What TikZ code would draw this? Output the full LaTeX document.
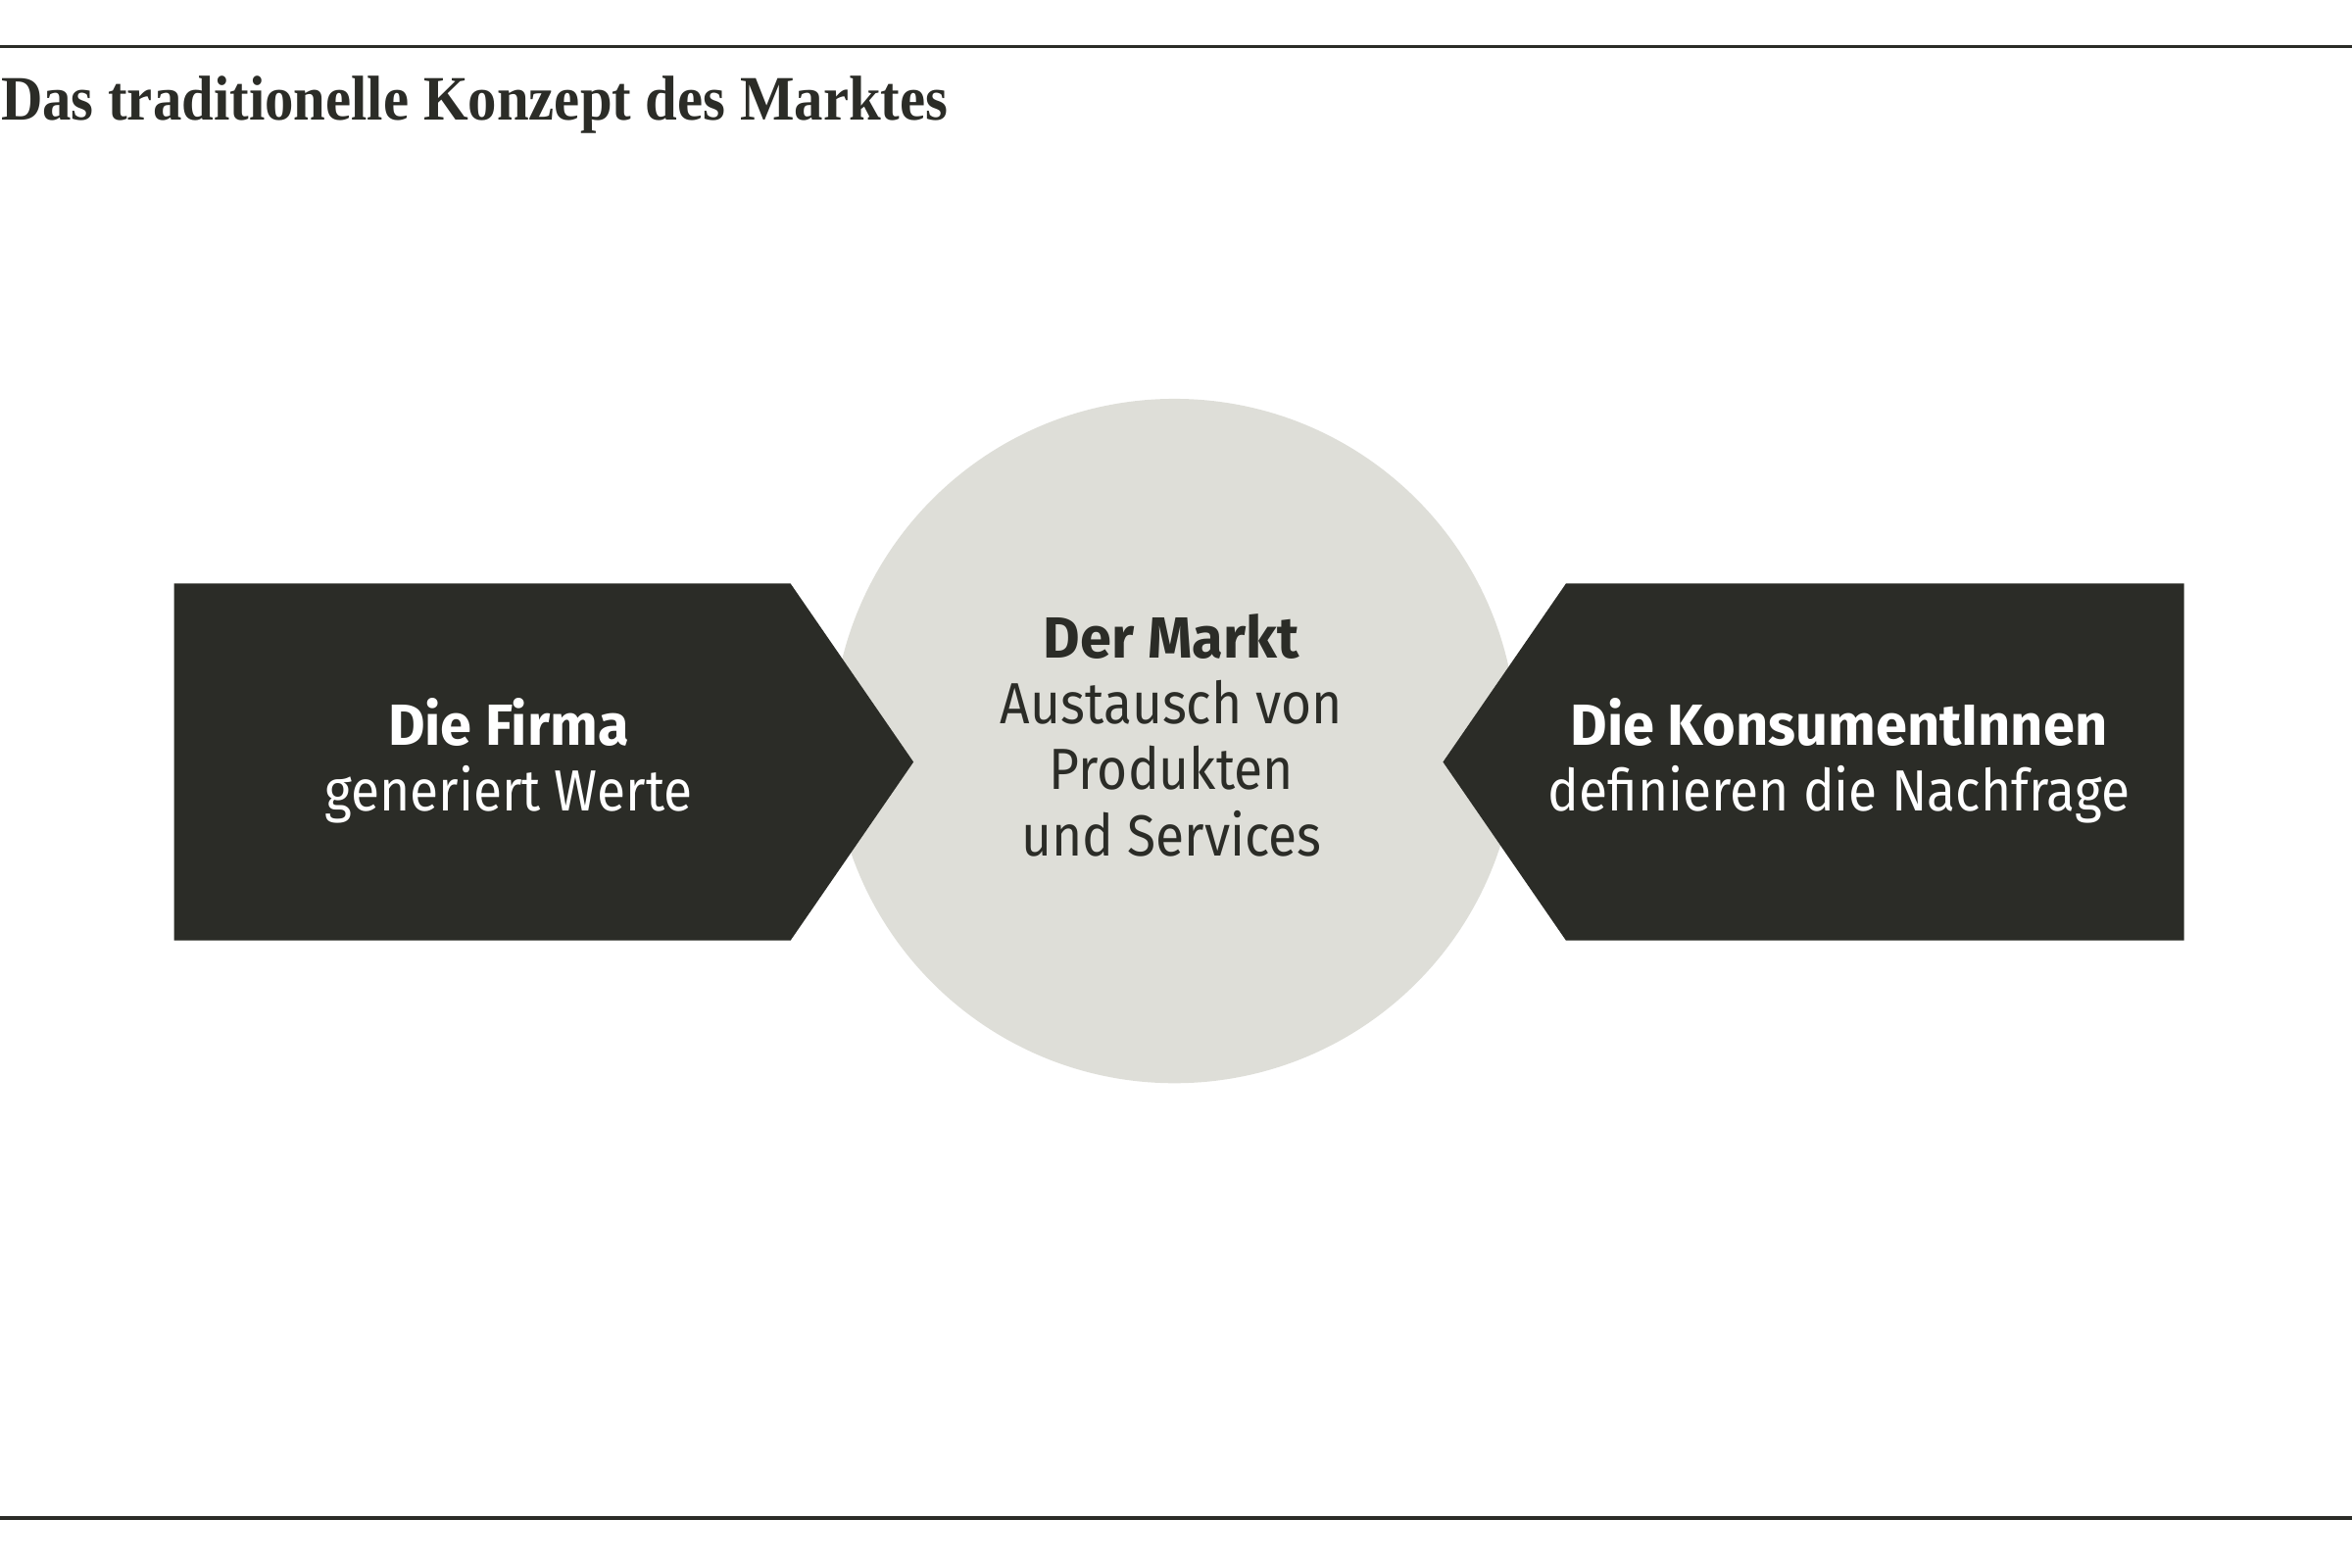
\documentclass[tikz,border=0pt]{standalone}
\usepackage{fontspec}
\setmainfont{Fira Sans}[UprightFeatures={FakeStretch=0.9}, BoldFeatures={FakeStretch=0.975}]
\newfontfamily\titlefont[FakeStretch=0.91]{Liberation Serif}
\usetikzlibrary{positioning}
\definecolor{darkbox}{HTML}{2B2C27}
\definecolor{marktgrey}{HTML}{DEDED8}

\begin{document}
\begin{tikzpicture}[x=0.01cm,y=-0.01cm]
	\tikzstyle{rule}=[draw=darkbox, line width=0.6pt]
	\tikzstyle{txt}=[align=center, inner sep=0, font=\fontsize{11}{12.5}\selectfont]
	\tikzstyle{txt_w}=[txt, text=white]

	\useasboundingbox (0,0) rectangle (1568,1045);
	\draw[rule] (0,31) -- (1568,31);
	\draw[rule] (0,1012) -- (1568,1012);
	\node[anchor=base west, inner sep=0, text=darkbox, font=\titlefont\bfseries\fontsize{12}{14}\selectfont] (title) at (0,80) {Das traditionelle Konzept des Marktes};

	% market in the middle
	\node[circle, fill=marktgrey, minimum size=4.56cm, inner sep=0] (markt) at (783,494) {};
	\node[txt, text=darkbox] (markttxt) at (781,490) {\textbf{Der Markt}\\Austausch von\\Produkten\\und Services};

	% firm and consumers
	\fill[darkbox] (116,389) -- (527,389) -- (609,508) -- (527,627) -- (116,627) -- cycle;
	\fill[darkbox] (1044,389) -- (1456,389) -- (1456,627) -- (1044,627) -- (962,508) -- cycle;
	\node[txt_w] (firma) at (339,507) {\textbf{Die Firma}\\generiert Werte};
	\node[txt_w] (konsum) at (1226,507) {\textbf{Die KonsumentInnen}\\definieren die Nachfrage};
\end{tikzpicture}
\end{document}
